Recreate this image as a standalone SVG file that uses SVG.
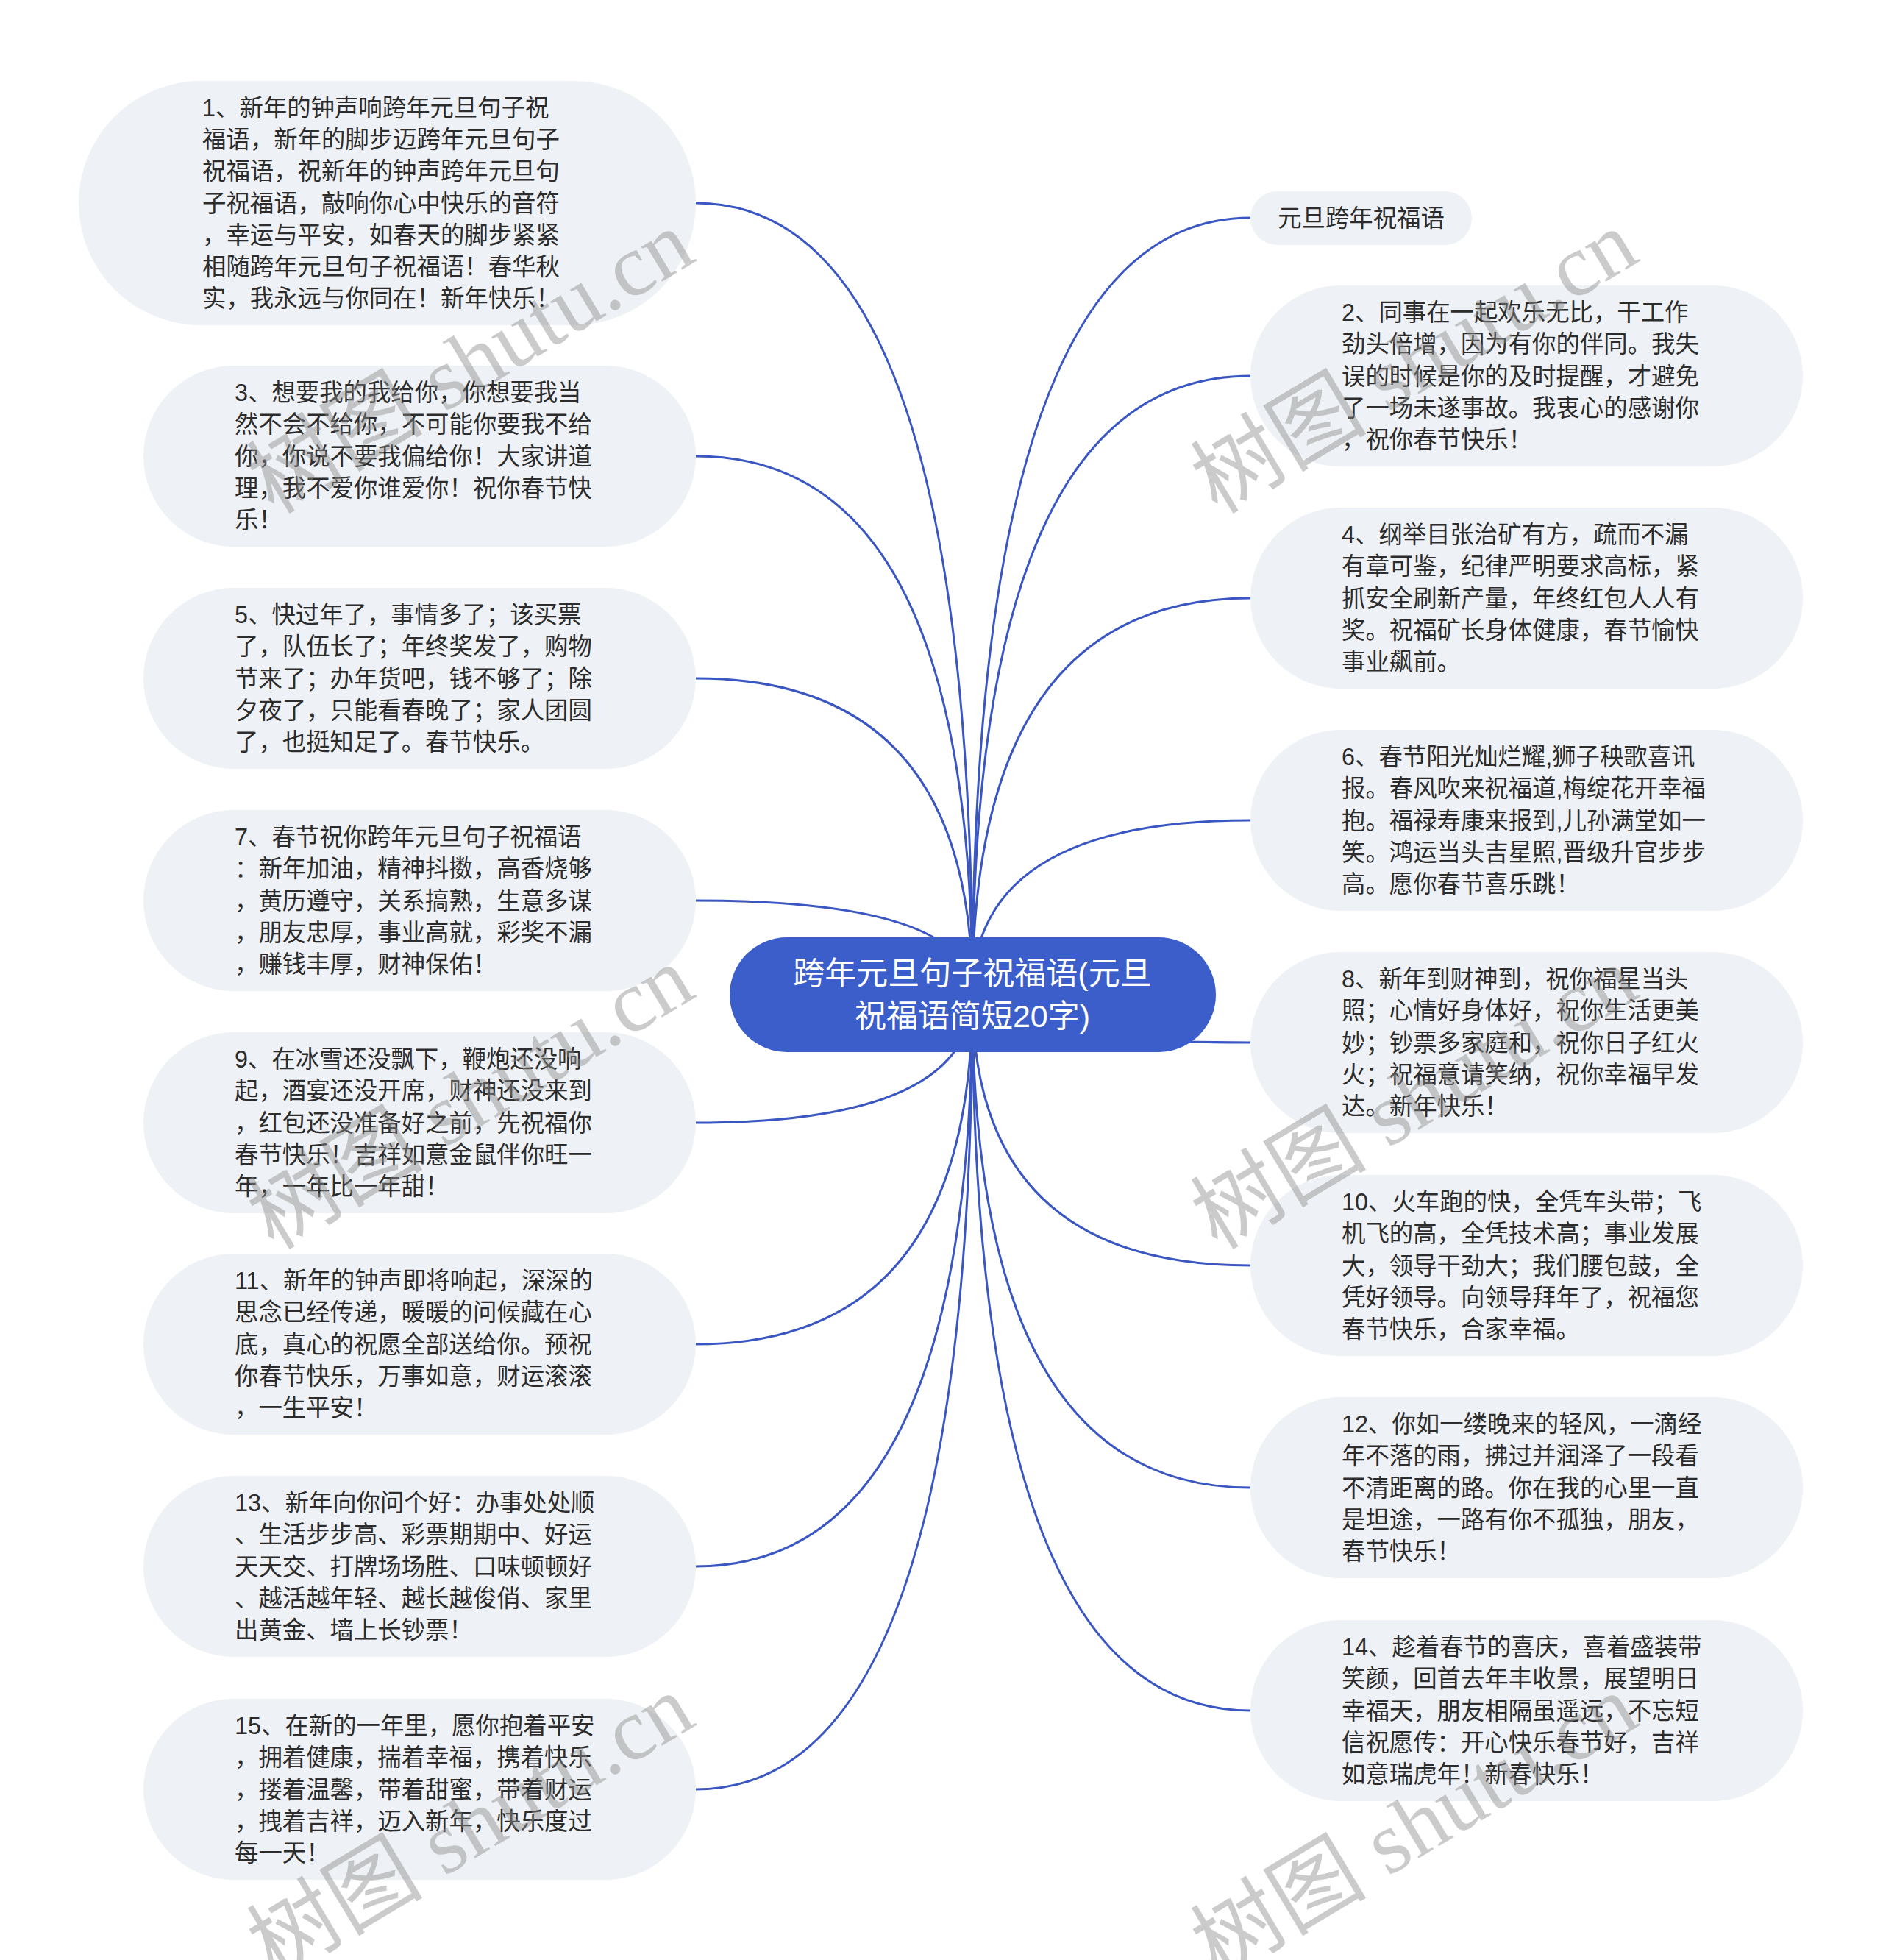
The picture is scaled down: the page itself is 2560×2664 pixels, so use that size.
<svg xmlns="http://www.w3.org/2000/svg" width="2560" height="2664" viewBox="0 0 2560 2664">
<style>
.bg{fill:#ffffff}
.node{fill:#eef1f5}
.t{font-family:'Liberation Sans','Noto Sans CJK SC',sans-serif;font-size:32.4px;fill:#2c2c2c}
.root{fill:#3c5ecb}
.rt{font-family:'Liberation Sans','Noto Sans CJK SC',sans-serif;font-size:43px;fill:#ffffff;text-anchor:middle}
.edge{fill:none;stroke:#3a56c2;stroke-width:3}
.wm{font-family:'Liberation Serif','Noto Sans CJK SC',serif;font-size:120px;fill:#8c8c8c;fill-opacity:0.45}
</style>
<rect class="bg" x="0" y="0" width="2560" height="2664"/>
<g id="connectors">
<path class="edge" d="M1322 1352 Q1322 276 946 276"/>
<path class="edge" d="M1322 1352 Q1322 620 946 620"/>
<path class="edge" d="M1322 1352 Q1322 922 946 922"/>
<path class="edge" d="M1322 1352 Q1322 1224 946 1224"/>
<path class="edge" d="M1322 1352 Q1322 1526 946 1526"/>
<path class="edge" d="M1322 1352 Q1322 1827 946 1827"/>
<path class="edge" d="M1322 1352 Q1322 2129 946 2129"/>
<path class="edge" d="M1322 1352 Q1322 2432 946 2432"/>
<path class="edge" d="M1322 1352 Q1322 296 1700 296"/>
<path class="edge" d="M1322 1352 Q1322 511 1700 511"/>
<path class="edge" d="M1322 1352 Q1322 813 1700 813"/>
<path class="edge" d="M1322 1352 Q1322 1115 1700 1115"/>
<path class="edge" d="M1322 1352 Q1322 1417 1700 1417"/>
<path class="edge" d="M1322 1352 Q1322 1720 1700 1720"/>
<path class="edge" d="M1322 1352 Q1322 2022 1700 2022"/>
<path class="edge" d="M1322 1352 Q1322 2325 1700 2325"/>
</g>
<g id="root">
<rect class="root" x="992" y="1274" width="661" height="156" rx="78"/>
<text class="rt"><tspan x="1322" y="1338">跨年元旦句子祝福语(元旦</tspan><tspan x="1322" y="1396">祝福语简短20字)</tspan></text>
</g>
<g id="n1" transform="translate(107,110)">
<rect class="node" x="0" y="0" width="839" height="332" rx="166"/>
<text class="t"><tspan x="168" y="47.6">1、新年的钟声响跨年元旦句子祝</tspan><tspan x="168" y="90.9">福语，新年的脚步迈跨年元旦句子</tspan><tspan x="168" y="134.2">祝福语，祝新年的钟声跨年元旦句</tspan><tspan x="168" y="177.5">子祝福语，敲响你心中快乐的音符</tspan><tspan x="168" y="220.8">，幸运与平安，如春天的脚步紧紧</tspan><tspan x="168" y="264.1">相随跨年元旦句子祝福语！春华秋</tspan><tspan x="168" y="307.4">实，我永远与你同在！新年快乐！</tspan></text>
</g>
<g id="n3" transform="translate(195,497)">
<rect class="node" x="0" y="0" width="751" height="246" rx="123"/>
<text class="t"><tspan x="124" y="48">3、想要我的我给你，你想要我当</tspan><tspan x="124" y="91.3">然不会不给你，不可能你要我不给</tspan><tspan x="124" y="134.6">你，你说不要我偏给你！大家讲道</tspan><tspan x="124" y="177.9">理，我不爱你谁爱你！祝你春节快</tspan><tspan x="124" y="221.2">乐！</tspan></text>
</g>
<g id="n5" transform="translate(195,799)">
<rect class="node" x="0" y="0" width="751" height="246" rx="123"/>
<text class="t"><tspan x="124" y="48">5、快过年了，事情多了；该买票</tspan><tspan x="124" y="91.3">了，队伍长了；年终奖发了，购物</tspan><tspan x="124" y="134.6">节来了；办年货吧，钱不够了；除</tspan><tspan x="124" y="177.9">夕夜了，只能看春晚了；家人团圆</tspan><tspan x="124" y="221.2">了，也挺知足了。春节快乐。</tspan></text>
</g>
<g id="n7" transform="translate(195,1101)">
<rect class="node" x="0" y="0" width="751" height="246" rx="123"/>
<text class="t"><tspan x="124" y="48">7、春节祝你跨年元旦句子祝福语</tspan><tspan x="124" y="91.3">：新年加油，精神抖擞，高香烧够</tspan><tspan x="124" y="134.6">，黄历遵守，关系搞熟，生意多谋</tspan><tspan x="124" y="177.9">，朋友忠厚，事业高就，彩奖不漏</tspan><tspan x="124" y="221.2">，赚钱丰厚，财神保佑！</tspan></text>
</g>
<g id="n9" transform="translate(195,1403)">
<rect class="node" x="0" y="0" width="751" height="246" rx="123"/>
<text class="t"><tspan x="124" y="48">9、在冰雪还没飘下，鞭炮还没响</tspan><tspan x="124" y="91.3">起，酒宴还没开席，财神还没来到</tspan><tspan x="124" y="134.6">，红包还没准备好之前，先祝福你</tspan><tspan x="124" y="177.9">春节快乐！吉祥如意金鼠伴你旺一</tspan><tspan x="124" y="221.2">年，一年比一年甜！</tspan></text>
</g>
<g id="n11" transform="translate(195,1704)">
<rect class="node" x="0" y="0" width="751" height="246" rx="123"/>
<text class="t"><tspan x="124" y="48">11、新年的钟声即将响起，深深的</tspan><tspan x="124" y="91.3">思念已经传递，暖暖的问候藏在心</tspan><tspan x="124" y="134.6">底，真心的祝愿全部送给你。预祝</tspan><tspan x="124" y="177.9">你春节快乐，万事如意，财运滚滚</tspan><tspan x="124" y="221.2">，一生平安！</tspan></text>
</g>
<g id="n13" transform="translate(195,2006)">
<rect class="node" x="0" y="0" width="751" height="246" rx="123"/>
<text class="t"><tspan x="124" y="48">13、新年向你问个好：办事处处顺</tspan><tspan x="124" y="91.3">、生活步步高、彩票期期中、好运</tspan><tspan x="124" y="134.6">天天交、打牌场场胜、口味顿顿好</tspan><tspan x="124" y="177.9">、越活越年轻、越长越俊俏、家里</tspan><tspan x="124" y="221.2">出黄金、墙上长钞票！</tspan></text>
</g>
<g id="n15" transform="translate(195,2309)">
<rect class="node" x="0" y="0" width="751" height="246" rx="123"/>
<text class="t"><tspan x="124" y="48">15、在新的一年里，愿你抱着平安</tspan><tspan x="124" y="91.3">，拥着健康，揣着幸福，携着快乐</tspan><tspan x="124" y="134.6">，搂着温馨，带着甜蜜，带着财运</tspan><tspan x="124" y="177.9">，拽着吉祥，迈入新年，快乐度过</tspan><tspan x="124" y="221.2">每一天！</tspan></text>
</g>
<g id="n0" transform="translate(1700,260)">
<rect class="node" x="0" y="0" width="301" height="73" rx="36.5"/>
<text class="t" text-anchor="middle" x="150.5" y="48">元旦跨年祝福语</text>
</g>
<g id="n2" transform="translate(1700,388)">
<rect class="node" x="0" y="0" width="751" height="246" rx="123"/>
<text class="t"><tspan x="124" y="48">2、同事在一起欢乐无比，干工作</tspan><tspan x="124" y="91.3">劲头倍增，因为有你的伴同。我失</tspan><tspan x="124" y="134.6">误的时候是你的及时提醒，才避免</tspan><tspan x="124" y="177.9">了一场未遂事故。我衷心的感谢你</tspan><tspan x="124" y="221.2">，祝你春节快乐！</tspan></text>
</g>
<g id="n4" transform="translate(1700,690)">
<rect class="node" x="0" y="0" width="751" height="246" rx="123"/>
<text class="t"><tspan x="124" y="48">4、纲举目张治矿有方，疏而不漏</tspan><tspan x="124" y="91.3">有章可鉴，纪律严明要求高标，紧</tspan><tspan x="124" y="134.6">抓安全刷新产量，年终红包人人有</tspan><tspan x="124" y="177.9">奖。祝福矿长身体健康，春节愉快</tspan><tspan x="124" y="221.2">事业飙前。</tspan></text>
</g>
<g id="n6" transform="translate(1700,992)">
<rect class="node" x="0" y="0" width="751" height="246" rx="123"/>
<text class="t"><tspan x="124" y="48">6、春节阳光灿烂耀,狮子秧歌喜讯</tspan><tspan x="124" y="91.3">报。春风吹来祝福道,梅绽花开幸福</tspan><tspan x="124" y="134.6">抱。福禄寿康来报到,儿孙满堂如一</tspan><tspan x="124" y="177.9">笑。鸿运当头吉星照,晋级升官步步</tspan><tspan x="124" y="221.2">高。愿你春节喜乐跳！</tspan></text>
</g>
<g id="n8" transform="translate(1700,1294)">
<rect class="node" x="0" y="0" width="751" height="246" rx="123"/>
<text class="t"><tspan x="124" y="48">8、新年到财神到，祝你福星当头</tspan><tspan x="124" y="91.3">照；心情好身体好，祝你生活更美</tspan><tspan x="124" y="134.6">妙；钞票多家庭和，祝你日子红火</tspan><tspan x="124" y="177.9">火；祝福意请笑纳，祝你幸福早发</tspan><tspan x="124" y="221.2">达。新年快乐！</tspan></text>
</g>
<g id="n10" transform="translate(1700,1597)">
<rect class="node" x="0" y="0" width="751" height="246" rx="123"/>
<text class="t"><tspan x="124" y="48">10、火车跑的快，全凭车头带；飞</tspan><tspan x="124" y="91.3">机飞的高，全凭技术高；事业发展</tspan><tspan x="124" y="134.6">大，领导干劲大；我们腰包鼓，全</tspan><tspan x="124" y="177.9">凭好领导。向领导拜年了，祝福您</tspan><tspan x="124" y="221.2">春节快乐，合家幸福。</tspan></text>
</g>
<g id="n12" transform="translate(1700,1899)">
<rect class="node" x="0" y="0" width="751" height="246" rx="123"/>
<text class="t"><tspan x="124" y="48">12、你如一缕晚来的轻风，一滴经</tspan><tspan x="124" y="91.3">年不落的雨，拂过并润泽了一段看</tspan><tspan x="124" y="134.6">不清距离的路。你在我的心里一直</tspan><tspan x="124" y="177.9">是坦途，一路有你不孤独，朋友，</tspan><tspan x="124" y="221.2">春节快乐！</tspan></text>
</g>
<g id="n14" transform="translate(1700,2202)">
<rect class="node" x="0" y="0" width="751" height="246" rx="123"/>
<text class="t"><tspan x="124" y="48">14、趁着春节的喜庆，喜着盛装带</tspan><tspan x="124" y="91.3">笑颜，回首去年丰收景，展望明日</tspan><tspan x="124" y="134.6">幸福天，朋友相隔虽遥远，不忘短</tspan><tspan x="124" y="177.9">信祝愿传：开心快乐春节好，吉祥</tspan><tspan x="124" y="221.2">如意瑞虎年！新春快乐！</tspan></text>
</g>
<g id="watermarks">
<text class="wm" transform="translate(372,700) rotate(-31)">树图 shutu.cn</text>
<text class="wm" transform="translate(372,1700) rotate(-31)">树图 shutu.cn</text>
<text class="wm" transform="translate(372,2690) rotate(-31)">树图 shutu.cn</text>
<text class="wm" transform="translate(1655,700) rotate(-31)">树图 shutu.cn</text>
<text class="wm" transform="translate(1655,1700) rotate(-31)">树图 shutu.cn</text>
<text class="wm" transform="translate(1655,2690) rotate(-31)">树图 shutu.cn</text>
</g>
</svg>
